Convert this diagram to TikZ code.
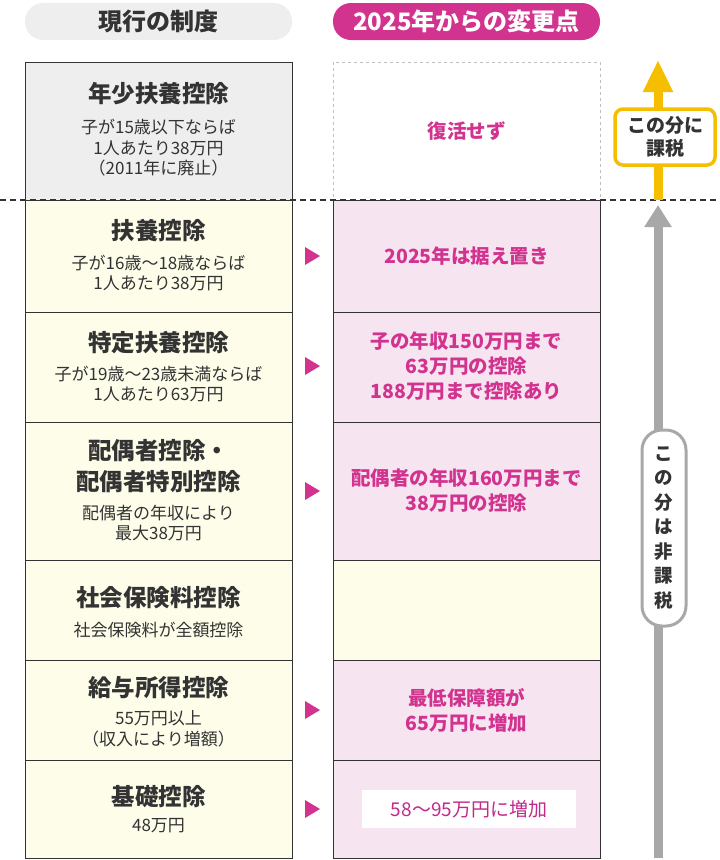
\documentclass[tikz,border=0pt]{standalone}
\usepackage{fontspec}
\setmainfont{Noto Sans CJK JP}
\usetikzlibrary{arrows.meta}
\definecolor{mag}{HTML}{D2338F}
\definecolor{pinkbg}{HTML}{F6E5F0}
\definecolor{yelbg}{HTML}{FDFDEA}
\definecolor{graybg}{HTML}{EEEEEE}
\definecolor{txt}{HTML}{333333}
\definecolor{gold}{HTML}{F5BE00}
\definecolor{arrgray}{HTML}{A8A8A8}
\begin{document}
\begin{tikzpicture}[x=1pt,y=-1pt,
  box/.style={draw=txt,line width=0.8pt},
  ttl/.style={font=\bfseries\fontsize{23.5}{28}\selectfont,text=txt,align=center},
  sub/.style={font=\fontsize{17}{20.5}\selectfont,text=txt,align=center},
  chg/.style={font=\bfseries\fontsize{19.5}{25}\selectfont,text=mag,align=center}]
\useasboundingbox (0,0) rectangle (720,860);
% headers
\node[fill=graybg,rounded corners=18pt,minimum width=267pt,minimum height=37pt,font=\bfseries\fontsize{24}{26}\selectfont,text=txt] (h1) at (158.5,21.5) {現行の制度};
\node[fill=mag,rounded corners=18pt,minimum width=267pt,minimum height=37pt,font=\bfseries\fontsize{24}{26}\selectfont,text=white] (h2) at (466.5,21.5) {2025年からの変更点};
% left boxes
\foreach \a/\b/\c in {62/200/graybg,200/312/yelbg,312/422/yelbg,422/560/yelbg,560/660/yelbg,660/760/yelbg,760/858/yelbg}
  \draw[box,fill=\c] (25,\a) rectangle (292,\b);
% middle boxes
\draw[draw=gray!50,dashed,fill=white] (333,62) rectangle (600,200);
\foreach \a/\b/\c in {200/312/pinkbg,312/422/pinkbg,422/560/pinkbg,560/660/yelbg,660/760/pinkbg,760/858/pinkbg}
  \draw[box,fill=\c] (333,\a) rectangle (600,\b);
\draw[dashed,line width=1.2pt,dash pattern=on 6pt off 4pt,txt] (0,200) -- (720,200);
% left texts
\node[ttl] (t1) at (158.5,94) {年少扶養控除};
\node[sub] (s1) at (158.5,148) {子が15歳以下ならば\\1人あたり38万円\\（2011年に廃止）};
\node[ttl] (t2) at (158.5,231) {扶養控除};
\node[sub] (s2) at (158.5,273) {子が16歳～18歳ならば\\1人あたり38万円};
\node[ttl] (t3) at (158.5,343) {特定扶養控除};
\node[sub] (s3) at (158.5,384) {子が19歳～23歳未満ならば\\1人あたり63万円};
\node[ttl,font=\bfseries\fontsize{23.5}{31}\selectfont] (t4) at (158.5,466) {配偶者控除・\\配偶者特別控除};
\node[sub] (s4) at (158.5,523) {配偶者の年収により\\最大38万円};
\node[ttl] (t5) at (158.5,598) {社会保険料控除};
\node[sub] (s5) at (158.5,630) {社会保険料が全額控除};
\node[ttl] (t6) at (158.5,688) {給与所得控除};
\node[sub] (s6) at (158.5,729) {55万円以上\\（収入により増額）};
\node[ttl] (t7) at (158.5,797) {基礎控除};
\node[sub] (s7) at (158.5,826) {48万円};
% middle texts
\node[chg] (c1) at (466.5,131) {復活せず};
\node[chg] (c2) at (466.5,256) {2025年は据え置き};
\node[chg] (c3) at (466.5,366) {子の年収150万円まで\\63万円の控除\\188万円まで控除あり};
\node[chg] (c4) at (466.5,491) {配偶者の年収160万円まで\\38万円の控除};
\node[chg] (c6) at (466.5,710) {最低保障額が\\65万円に増加};
\node[fill=white,text=mag!80!violet,font=\fontsize{19}{22}\selectfont,minimum width=214pt,minimum height=38pt] (c7) at (469,809) {58～95万円に増加};
% triangles
\foreach \y in {256,366,491,710,809}
  \fill[mag] (305,\y-9) -- (320,\y) -- (305,\y+9) -- cycle;
% arrows
\coordinate (gb) at (658,858);
\coordinate (gt) at (658,205);
\coordinate (yb) at (658,200);
\coordinate (yt) at (658,60);
\draw[arrgray,line width=9pt,-{Triangle[length=22pt,width=26pt]}] (gb) -- (gt);
\draw[gold,line width=9pt,-{Triangle[length=32pt,width=28pt]}] (yb) -- (yt);
\node[draw=gold,line width=3.5pt,fill=white,rounded corners=8pt,minimum width=100pt,minimum height=56pt,align=center,font=\bfseries\fontsize{19}{23}\selectfont,text=txt] (lab1) at (665,137) {この分に\\課税};
\node[draw=arrgray,line width=3pt,fill=white,rounded corners=20pt,minimum width=44pt,minimum height=196pt,align=center,font=\bfseries\fontsize{18.5}{24.5}\selectfont,text=txt] (lab2) at (664,528) {こ\\の\\分\\は\\非\\課\\税};
\end{tikzpicture}
\end{document}
